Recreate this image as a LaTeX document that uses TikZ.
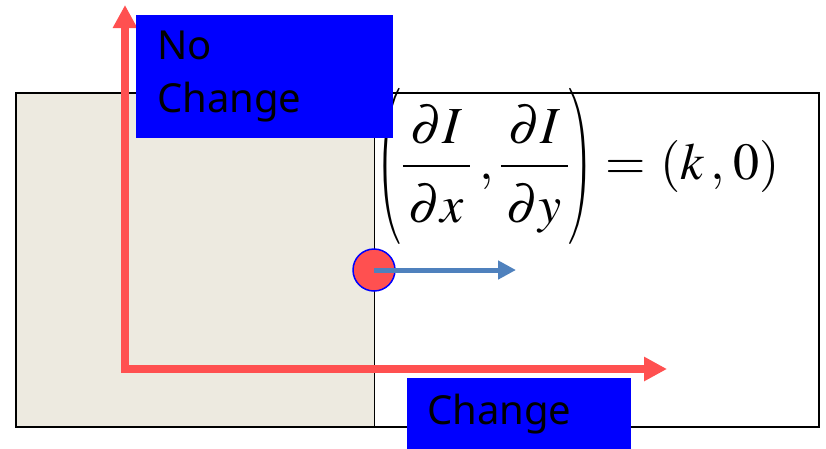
\documentclass[tikz,border=0pt]{standalone}
\usepackage{mathptmx}
\usepackage{graphicx}
\usepackage[no-math]{fontspec}
\newfontfamily\labelfont{Noto Sans}
\usetikzlibrary{arrows.meta}
\definecolor{axisred}{HTML}{FF5050}
\definecolor{boxblue}{HTML}{0000FF}
\definecolor{paper}{HTML}{EDEAE0}
\definecolor{gradblue}{HTML}{4F81BD}
\newcommand{\dendown}[1]{\raisebox{-8pt}{$\mkern2mu#1\mkern2mu$}}
\newcommand{\tallpar}[1]{\mathopen{}\scalebox{0.6}[1]{$\left#1\vrule width 0pt height 82pt depth 60pt\right.$}\mathclose{}}
\begin{document}
\begin{tikzpicture}[x=1pt,y=-1pt,
  axis/.style={draw=axisred, line width=8pt,
    {Triangle[length=23pt,width=23pt]}-{Triangle[length=23pt,width=23pt]}},
  grad/.style={draw=gradblue, line width=5pt, -{Triangle[length=18pt,width=18pt]}},
  dot/.style={circle, fill=axisred, draw=boxblue, line width=1.5pt, minimum size=42pt, inner sep=0pt},
  labelbox/.style={fill=boxblue, inner xsep=21pt, inner ysep=0pt, anchor=north west,
    align=left, font=\labelfont\fontsize{40}{53}\selectfont}]
  \useasboundingbox (0,0) rectangle (826,448);
  % image frame
  \fill[paper] (16,93) rectangle (374,427);
  \draw[line width=1.5pt] (16,93) rectangle (819,427);
  \draw[line width=1pt] (374,93) -- (374,427);
  % gradient
  \node[anchor=west, inner sep=0pt] (eq) at (376,166)
    {\fontsize{52}{60}\selectfont $\displaystyle\tallpar(
      \frac{\mkern2mu\partial I\mkern2mu}{\dendown{\partial x}}\mkern3mu,\frac{\mkern2mu\partial I\mkern2mu}{\dendown{\partial y}}
      \tallpar)=\mkern1mu(k\,,\mkern1mu0)$};
  % axes
  \coordinate (ytip) at (125,5);
  \coordinate (xtip) at (667,369);
  \draw[axis] (ytip) |- (xtip);
  % labels
  \node[labelbox, text width=215pt, minimum height=123pt] (nochg) at (136,15) {No\\Change};
  \node[labelbox, inner xsep=20pt, text width=184pt, minimum height=72pt] (chg) at (407,378) {Change};
  % edge point
  \node[dot] (pt) at (374,270) {};
  \coordinate (gradtip) at (516,270);
  \draw[grad] (pt.center) -- (gradtip);
\end{tikzpicture}
\end{document}
